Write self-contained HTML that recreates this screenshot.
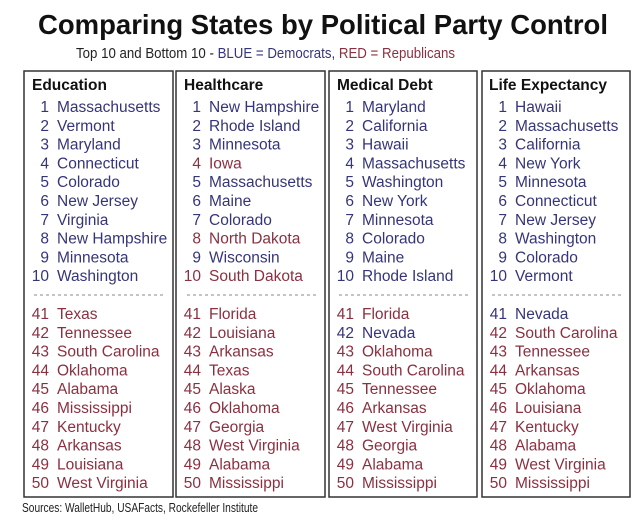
<!DOCTYPE html>
<html><head><meta charset="utf-8"><style>
html,body{margin:0;padding:0;background:#fff;}
svg{display:block;font-family:"Liberation Sans",sans-serif;}
.b{fill:#35357a}.r{fill:#8a3040}
.t text{font-size:15.5px}
</style></head><body>
<svg width="640" height="520" viewBox="0 0 640 520">
<rect x="0" y="0" width="640" height="520" fill="#fff"/>
<text x="323" y="34" text-anchor="middle" font-size="28" font-weight="bold" fill="#111" textLength="570" lengthAdjust="spacingAndGlyphs">Comparing States by Political Party Control</text>
<text x="76" y="58" font-size="15" textLength="379" lengthAdjust="spacingAndGlyphs"><tspan fill="#222">Top 10 and Bottom 10 - </tspan><tspan class="b">BLUE = Democrats, </tspan><tspan class="r">RED = Republicans</tspan></text>
<g fill="none" stroke="#333" stroke-width="1.5">
<rect x="24" y="71" width="149" height="426"/>
<rect x="176" y="71" width="149" height="426"/>
<rect x="329" y="71" width="148" height="426"/>
<rect x="482" y="71" width="148" height="426"/>
</g>
<g stroke="#888" stroke-dasharray="3,3" stroke-width="1">
<line x1="34" y1="295" x2="164" y2="295"/>
<line x1="187" y1="295" x2="316" y2="295"/>
<line x1="339" y1="295" x2="468" y2="295"/>
<line x1="492" y1="295" x2="621" y2="295"/>
</g>
<g font-size="15.5" font-weight="bold" fill="#111">
<text x="32" y="90">Education</text>
<text x="184" y="90">Healthcare</text>
<text x="337" y="90">Medical Debt</text>
<text x="489" y="90">Life Expectancy</text>
</g>
<g class="t" id="rows"></g>
<text x="22" y="512" font-size="13" fill="#222" textLength="236" lengthAdjust="spacingAndGlyphs">Sources: WalletHub, USAFacts, Rockefeller Institute</text>
</svg>
<script>
var cols=[
[24,["bMassachusetts","bVermont","bMaryland","bConnecticut","bColorado","bNew Jersey","bVirginia","bNew Hampshire","bMinnesota","bWashington"],
["rTexas","rTennessee","rSouth Carolina","rOklahoma","rAlabama","rMississippi","rKentucky","rArkansas","rLouisiana","rWest Virginia"]],
[176,["bNew Hampshire","bRhode Island","bMinnesota","rIowa","bMassachusetts","bMaine","bColorado","rNorth Dakota","bWisconsin","rSouth Dakota"],
["rFlorida","rLouisiana","rArkansas","rTexas","rAlaska","rOklahoma","rGeorgia","rWest Virginia","rAlabama","rMississippi"]],
[329,["bMaryland","bCalifornia","bHawaii","bMassachusetts","bWashington","bNew York","bMinnesota","bColorado","bMaine","bRhode Island"],
["rFlorida","bNevada","rOklahoma","rSouth Carolina","rTennessee","rArkansas","rWest Virginia","rGeorgia","rAlabama","rMississippi"]],
[482,["bHawaii","bMassachusetts","bCalifornia","bNew York","bMinnesota","bConnecticut","bNew Jersey","bWashington","bColorado","bVermont"],
["bNevada","rSouth Carolina","rTennessee","rArkansas","rOklahoma","rLouisiana","rKentucky","rAlabama","rWest Virginia","rMississippi"]]];
var s="";
cols.forEach(function(c){var L=c[0];
c[1].forEach(function(n,i){var y=(112+i*18.8).toFixed(1),k=n[0];
s+='<text class="'+k+'" x="'+(L+25)+'" y="'+y+'" text-anchor="end">'+(i+1)+'</text><text class="'+k+'" x="'+(L+33)+'" y="'+y+'">'+n.slice(1)+'</text>';});
c[2].forEach(function(n,i){var y=(319+i*18.8).toFixed(1),k=n[0];
s+='<text class="'+k+'" x="'+(L+25)+'" y="'+y+'" text-anchor="end">'+(41+i)+'</text><text class="'+k+'" x="'+(L+33)+'" y="'+y+'">'+n.slice(1)+'</text>';});
});
document.getElementById("rows").innerHTML=s;
</script>
</body></html>
